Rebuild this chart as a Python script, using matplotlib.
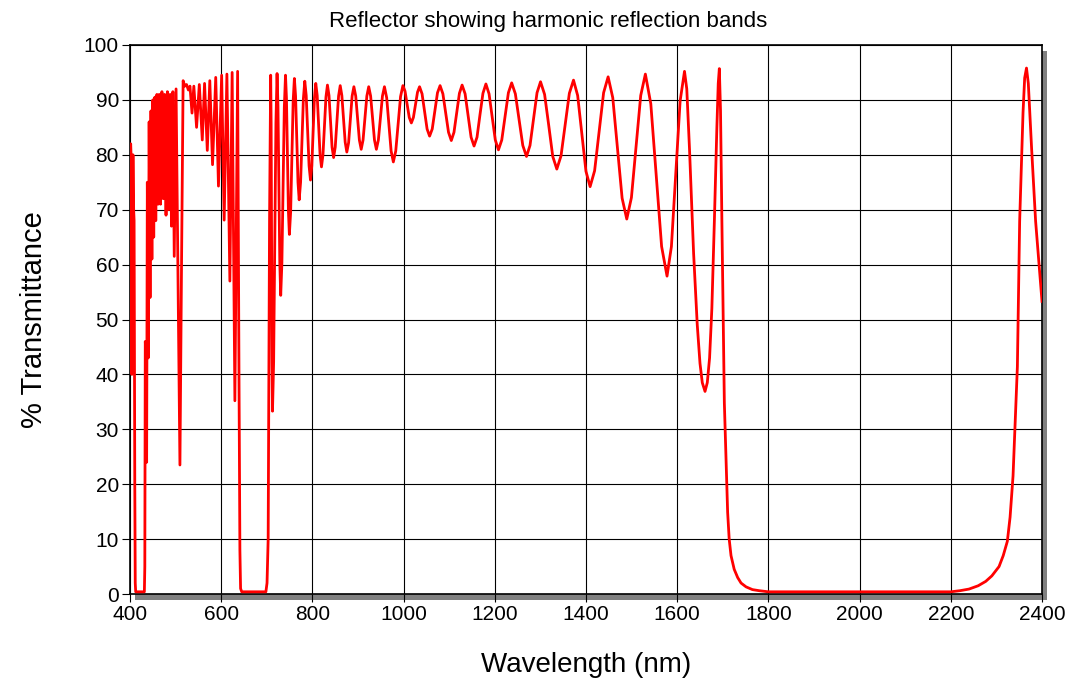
import matplotlib
matplotlib.use("Agg")
import matplotlib.pyplot as plt
from matplotlib.patches import Rectangle

plt.rcParams['font.family'] = ['Liberation Sans', 'DejaVu Sans']

# Transmittance spectrum of the reflector (wavelength in nm, T in %)
# 400 - 530 nm: third-order edge and the dense short-wave ripple
wl_short = [400, 400.8, 401.5, 402.3, 404, 406.5, 408, 409, 410.5, 411.5, 412.5,
            431.5, 432.5, 433.5, 435, 436.5, 438, 440, 442, 444, 446, 448, 450,
            452, 454.5, 456.5, 459, 461.5, 464, 467, 470, 473, 476, 479, 482,
            485, 488, 491, 494, 497, 501, 505, 509.5, 513, 516.5, 520, 524, 528]
tr_short = [62, 81, 82, 80, 40, 80, 70, 68, 20, 2, 0.4,
            0.4, 5, 46, 44, 24, 75, 43, 86, 54, 88, 61, 90,
            65, 90.5, 68, 91, 71, 91, 71, 91.5, 72, 91, 69, 91.5,
            70, 91, 67, 91.5, 61.5, 92, 60, 23.5, 60, 93.5, 92.5, 92.8, 91.8]

# 530 - 708 nm: ripple and the second harmonic band
wl_vis = [531.5, 536, 540, 546, 552, 558.5, 563.5, 569.5, 575, 581, 588, 594,
          601, 606.5, 612.5, 619, 624, 630, 636, 639, 641, 642.5, 645,
          698, 700.5, 703, 706]
tr_vis = [92.5, 87.6, 92.5, 85, 92.8, 82.7, 93, 80.8, 93.5, 78.2, 94.1, 74.3,
          94.5, 68.1, 94.7, 57, 95, 35.2, 95.2, 40, 8, 1, 0.4,
          0.4, 2, 10, 68]

# 708 - 1000 nm
wl_nir = [708.5, 709.5, 710.5, 711.5, 712.5, 715, 717.5, 720, 722.5, 724.5, 726.5,
          728.5, 730.5, 733.1, 735.8, 738.4, 741, 743.1, 745.3, 747.4, 749.5,
          752.3, 755, 757.8, 760.5, 763.1, 765.8, 768.4, 771, 774.1, 777.2,
          780.2, 783.3, 786.4, 789.6, 792.7, 795.8, 798.7, 801.6, 804.5, 807.4,
          810.5, 813.7, 816.8, 819.9, 823.2, 826.5, 829.7, 833, 836.4, 839.8,
          843.1, 846.5, 850.1, 853.8, 857.4, 861, 864.6, 868.3, 871.9, 875.5,
          879.4, 883.3, 887.1, 891, 895, 899, 903, 907, 911.1, 915.3, 919.4,
          923.5, 927.7, 931.9, 936.1, 940.3, 944.7, 949.2, 953.6, 958, 962.9,
          967.8, 972.6, 977.5, 982.8, 988, 993.3, 998.5]
tr_nir = [94.5, 85.6, 63.9, 42.2, 33.3, 42.3, 64.1, 85.8, 94.8, 88.9, 74.6,
          60.3, 54.4, 60.3, 74.5, 88.6, 94.5, 90.3, 80, 69.7, 65.5,
          69.6, 79.7, 89.8, 93.9, 90.7, 82.9, 75, 71.8, 75, 82.6,
          90.2, 93.4, 90.8, 84.4, 78, 75.4, 78, 84.2, 90.4, 93,
          90.8, 85.4, 80, 77.8, 80, 85.3, 90.5, 92.7, 90.8, 86.1,
          81.4, 79.5, 81.4, 86.1, 90.7, 92.6, 90.8, 86.6, 82.3, 80.5,
          82.2, 86.5, 90.7, 92.4, 90.7, 86.7, 82.7, 81, 82.7, 86.7, 90.7,
          92.4, 90.7, 86.7, 82.7, 81, 82.7, 86.7, 90.7, 92.4, 90.4,
          85.6, 80.7, 78.7, 80.7, 85.7, 90.6, 92.6]

# 1000 - 2400 nm: broad ripple and the fundamental stop band
wl_ir = [1003.1, 1007.8, 1012.4, 1017, 1021.5, 1026, 1030.5, 1035, 1040.5, 1046,
         1051.5, 1057, 1062.8, 1068.5, 1074.3, 1080, 1086.2, 1092.3, 1098.5,
         1104.6, 1110.5, 1116.5, 1122.4, 1128.3, 1134.9, 1141.4, 1148, 1154.5,
         1161, 1167.5, 1174, 1180.5, 1187.4, 1194.3, 1201.1, 1208, 1215.3,
         1222.5, 1229.8, 1237, 1245.1, 1253.3, 1261.4, 1269.5, 1277.2, 1284.9,
         1292.6, 1300.3, 1309.2, 1318.2, 1327.1, 1336, 1345.2, 1354.3, 1363.5,
         1372.6, 1381.7, 1390.8, 1399.9, 1409, 1418.9, 1428.8, 1438.6, 1448.5,
         1458.7, 1469, 1479.2, 1489.4, 1499.6, 1509.8, 1520, 1530.2, 1542.1,
         1554, 1565.8, 1577.7, 1587.3, 1596.9, 1606.4, 1616, 1621, 1627, 1636,
         1644, 1650, 1655, 1661, 1666, 1671, 1676, 1681.5, 1687, 1690, 1692.4,
         1695, 1698, 1703.4, 1710.6, 1714, 1718, 1725, 1732.6, 1740, 1751, 1765,
         1780, 1800, 2200, 2220, 2240, 2260, 2276.6, 2290, 2305.8, 2315, 2324,
         2330, 2336.5, 2346, 2351, 2358.4, 2362, 2366, 2370, 2377.3, 2386, 2400]
tr_ir = [91.6, 89.2, 86.8, 85.8, 86.8, 89.1, 91.4, 92.4, 91.1, 87.9,
         84.7, 83.4, 84.7, 88, 91.3, 92.6, 91.1, 87.6, 84.1,
         82.6, 84.1, 87.7, 91.2, 92.7, 91.1, 87.2, 83.2, 81.6,
         83.2, 87.3, 91.2, 92.9, 91.1, 86.9, 82.7, 80.9, 82.7,
         87, 91.3, 93.1, 91.1, 86.4, 81.7, 79.7, 81.7, 86.5,
         91.3, 93.3, 91, 85.4, 79.7, 77.4, 79.8, 85.5, 91.2,
         93.6, 90.8, 83.9, 77, 74.2, 77.1, 84.2, 91.3, 94.2,
         90.4, 81.3, 72.1, 68.3, 72.2, 81.5, 90.8, 94.7, 89.3,
         76.3, 63.3, 57.9, 63.3, 76.6, 89.8, 95.2, 92, 81, 62,
         49, 42, 38.5, 36.9, 38.5, 43, 52, 67.9, 85, 93, 95.7,
         88, 67.9, 34.8, 14.9, 10, 7, 4.5, 3, 2, 1.3, 0.8,
         0.6, 0.4, 0.4, 0.6, 0.9, 1.5, 2.3, 3.3, 5, 7, 9.6,
         14, 21.5, 41.4, 67.9, 87.7, 94, 95.8, 93, 81, 67.9, 53.3]

wavelength = wl_short + wl_vis + wl_nir + wl_ir
transmittance = tr_short + tr_vis + tr_nir + tr_ir

W, H = 1067, 681
fig = plt.figure(figsize=(W / 100, H / 100), dpi=100)
left, right, top, bottom = 130, 1042, 45, 594
ax = fig.add_axes([left / W, 1 - bottom / H, (right - left) / W, (bottom - top) / H])

# drop shadow behind the plot frame
fig.add_artist(Rectangle(((left + 5) / W, 1 - (bottom + 6) / H),
                         (right - left) / W, (bottom - top) / H,
                         transform=fig.transFigure, facecolor='#808080',
                         edgecolor='none', zorder=-1))

ax.plot(wavelength, transmittance, color='#ff0000', lw=2.0,
        solid_joinstyle='round', zorder=3)

ax.set_xlim(400, 2400)
ax.set_ylim(0, 100)
ax.set_xticks(range(400, 2401, 200))
ax.set_yticks(range(0, 101, 10))
ax.grid(True, color='black', lw=0.8)
ax.set_axisbelow(True)
for s in ax.spines.values():
    s.set_color('black')
    s.set_linewidth(1.2)
ax.tick_params(direction='out', length=6, width=0.8, labelsize=15, pad=2)

ax.set_xlabel('Wavelength (nm)', fontsize=20, labelpad=20)
ax.set_ylabel('% Transmittance', fontsize=21, labelpad=26)
fig.text(548 / W, 1 - 21 / H, 'Reflector showing harmonic reflection bands',
         ha='center', va='center', fontsize=16)

fig.savefig('out.png', dpi=100)
